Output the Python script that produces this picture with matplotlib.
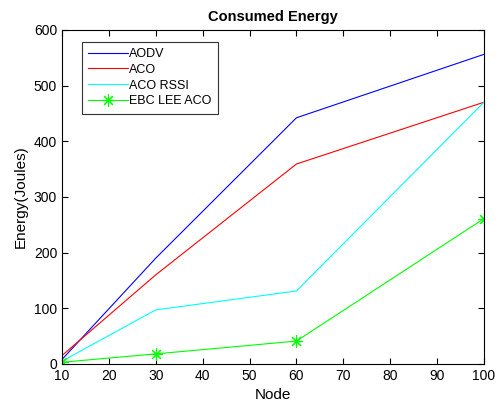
import matplotlib
matplotlib.use("Agg")
import matplotlib.pyplot as plt

plt.rcParams['font.family'] = ['Liberation Sans', 'DejaVu Sans']

nodes = [10, 30, 60, 100]
aodv = [8, 190, 442, 556]
aco = [15, 160, 359, 470]
aco_rssi = [5, 97, 131, 470]
ebc_lee_aco = [3, 18, 41, 261]

fig = plt.figure(figsize=(5, 4.03), dpi=100)
ax = fig.add_axes([0.124, 0.097, 0.844, 0.829])

ax.plot(nodes, aodv, color='blue', lw=0.8, label="AODV")
ax.plot(nodes, aco, color='red', lw=0.8, label="ACO")
ax.plot(nodes, aco_rssi, color='cyan', lw=0.8, label="ACO RSSI")
ax.plot(nodes, ebc_lee_aco, color='#00ff00', lw=0.8, marker=(8, 2, 0),
        markersize=9, markeredgewidth=0.8, label="EBC LEE ACO")

ax.set_xlim(10, 100)
ax.set_ylim(0, 600)
ax.set_xticks(range(10, 101, 10))
ax.set_yticks(range(0, 601, 100))
ax.tick_params(direction='in', top=True, right=True, labelsize=10, length=4)
ax.set_xlabel("Node", fontsize=11)
ax.set_ylabel("Energy(Joules)", fontsize=11)
ax.set_title("Consumed Energy", fontsize=10.5, fontweight='bold')
leg = ax.legend(loc='upper left', bbox_to_anchor=(0.047, 0.964), fontsize=9,
                fancybox=False, edgecolor='#333333', framealpha=1,
                borderaxespad=0, handlelength=3.2, handletextpad=0.1,
                borderpad=0.5, labelspacing=0.3)
leg.get_frame().set_linewidth(0.8)

plt.savefig("out.png")
